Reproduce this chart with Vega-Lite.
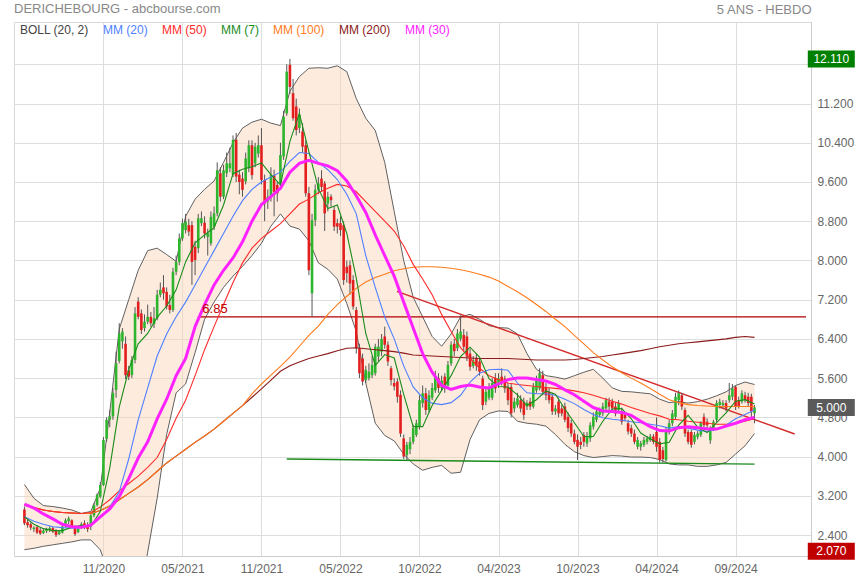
{
"$schema":"https://vega.github.io/schema/vega-lite/v6.json",
"width":797,"height":534,
"autosize":{"type":"none"},
"padding":{"left":14,"top":22,"right":49,"bottom":24},
"background":"white",
"title":{"text":"DERICHEBOURG - abcbourse.com","anchor":"start","frame":"group","baseline":"middle","font":"Liberation Sans","fontSize":13,"fontWeight":"normal","color":"#888888","offset":-18.5},
"config":{"view":{"stroke":"#d8d8d8"},"font":"Liberation Sans"},
"datasets":{
"k":[
{"d":"2020-06-05","o":2.92,"h":2.98,"l":2.60,"c":2.64},
{"d":"2020-06-12","o":2.66,"h":2.74,"l":2.55,"c":2.60},
{"d":"2020-06-19","o":2.62,"h":2.66,"l":2.50,"c":2.55},
{"d":"2020-06-26","o":2.52,"h":2.58,"l":2.46,"c":2.55},
{"d":"2020-07-03","o":2.56,"h":2.60,"l":2.42,"c":2.45},
{"d":"2020-07-10","o":2.50,"h":2.55,"l":2.40,"c":2.43},
{"d":"2020-07-17","o":2.44,"h":2.52,"l":2.42,"c":2.49},
{"d":"2020-07-24","o":2.48,"h":2.55,"l":2.44,"c":2.52},
{"d":"2020-07-31","o":2.50,"h":2.58,"l":2.46,"c":2.54},
{"d":"2020-08-07","o":2.54,"h":2.58,"l":2.44,"c":2.47},
{"d":"2020-08-14","o":2.50,"h":2.52,"l":2.36,"c":2.40},
{"d":"2020-08-21","o":2.42,"h":2.50,"l":2.40,"c":2.47},
{"d":"2020-08-28","o":2.45,"h":2.60,"l":2.43,"c":2.57},
{"d":"2020-09-04","o":2.58,"h":2.74,"l":2.56,"c":2.70},
{"d":"2020-09-11","o":2.68,"h":2.78,"l":2.62,"c":2.74},
{"d":"2020-09-18","o":2.70,"h":2.72,"l":2.54,"c":2.58},
{"d":"2020-09-25","o":2.58,"h":2.60,"l":2.38,"c":2.42},
{"d":"2020-10-02","o":2.46,"h":2.58,"l":2.44,"c":2.54},
{"d":"2020-10-09","o":2.55,"h":2.66,"l":2.52,"c":2.62},
{"d":"2020-10-16","o":2.64,"h":2.70,"l":2.52,"c":2.56},
{"d":"2020-10-23","o":2.60,"h":2.66,"l":2.46,"c":2.52},
{"d":"2020-10-30","o":2.58,"h":2.86,"l":2.50,"c":2.80},
{"d":"2020-11-06","o":2.80,"h":3.05,"l":2.76,"c":3.01},
{"d":"2020-11-13","o":3.01,"h":3.25,"l":2.98,"c":3.22},
{"d":"2020-11-20","o":3.18,"h":3.48,"l":3.15,"c":3.42},
{"d":"2020-11-27","o":3.42,"h":4.40,"l":3.40,"c":4.34},
{"d":"2020-12-04","o":4.36,"h":4.80,"l":4.30,"c":4.75},
{"d":"2020-12-11","o":4.75,"h":4.95,"l":4.60,"c":4.82},
{"d":"2020-12-18","o":4.82,"h":5.40,"l":4.75,"c":5.30},
{"d":"2020-12-25","o":5.36,"h":6.14,"l":5.20,"c":5.90},
{"d":"2021-01-01","o":5.95,"h":6.72,"l":5.90,"c":6.51},
{"d":"2021-01-08","o":6.35,"h":6.62,"l":6.20,"c":6.55},
{"d":"2021-01-15","o":6.30,"h":6.45,"l":5.58,"c":5.66},
{"d":"2021-01-22","o":5.76,"h":5.85,"l":5.56,"c":5.63},
{"d":"2021-01-29","o":5.66,"h":6.05,"l":5.60,"c":5.97},
{"d":"2021-02-05","o":5.97,"h":7.05,"l":5.90,"c":6.92},
{"d":"2021-02-12","o":7.16,"h":7.25,"l":6.80,"c":6.85},
{"d":"2021-02-19","o":6.92,"h":7.00,"l":6.50,"c":6.58},
{"d":"2021-02-26","o":6.62,"h":6.90,"l":6.55,"c":6.75},
{"d":"2021-03-05","o":6.75,"h":7.10,"l":6.70,"c":6.85},
{"d":"2021-03-12","o":6.85,"h":6.95,"l":6.65,"c":6.72},
{"d":"2021-03-19","o":6.70,"h":7.05,"l":6.62,"c":6.82},
{"d":"2021-03-26","o":6.82,"h":7.40,"l":6.78,"c":7.30},
{"d":"2021-04-02","o":7.30,"h":7.55,"l":7.25,"c":7.40},
{"d":"2021-04-09","o":7.45,"h":7.70,"l":7.20,"c":7.33},
{"d":"2021-04-16","o":7.36,"h":7.45,"l":7.00,"c":7.06},
{"d":"2021-04-23","o":7.09,"h":7.30,"l":6.92,"c":6.99},
{"d":"2021-04-30","o":6.99,"h":7.85,"l":6.95,"c":7.77},
{"d":"2021-05-07","o":7.77,"h":8.10,"l":7.70,"c":7.97},
{"d":"2021-05-14","o":7.97,"h":8.55,"l":7.90,"c":8.45},
{"d":"2021-05-21","o":8.45,"h":8.85,"l":8.40,"c":8.76},
{"d":"2021-05-28","o":8.62,"h":8.95,"l":8.55,"c":8.79},
{"d":"2021-06-04","o":8.72,"h":8.85,"l":8.50,"c":8.59},
{"d":"2021-06-11","o":8.72,"h":8.80,"l":7.50,"c":7.97},
{"d":"2021-06-18","o":8.28,"h":8.40,"l":7.70,"c":8.01},
{"d":"2021-06-25","o":8.25,"h":8.95,"l":8.15,"c":8.86},
{"d":"2021-07-02","o":8.76,"h":9.00,"l":8.70,"c":8.86},
{"d":"2021-07-09","o":8.77,"h":8.90,"l":8.45,"c":8.55},
{"d":"2021-07-16","o":8.48,"h":8.65,"l":8.10,"c":8.55},
{"d":"2021-07-23","o":8.35,"h":9.00,"l":8.30,"c":8.89},
{"d":"2021-07-30","o":8.69,"h":9.10,"l":8.62,"c":8.96},
{"d":"2021-08-06","o":8.96,"h":10.00,"l":8.90,"c":9.84},
{"d":"2021-08-13","o":9.78,"h":9.90,"l":9.20,"c":9.30},
{"d":"2021-08-20","o":9.30,"h":9.95,"l":9.25,"c":9.84},
{"d":"2021-08-27","o":9.78,"h":10.20,"l":9.70,"c":9.98},
{"d":"2021-09-03","o":9.88,"h":10.30,"l":9.80,"c":9.98},
{"d":"2021-09-10","o":9.75,"h":10.55,"l":9.70,"c":10.46},
{"d":"2021-09-17","o":10.46,"h":10.60,"l":9.60,"c":9.71},
{"d":"2021-09-24","o":9.75,"h":9.85,"l":9.35,"c":9.60},
{"d":"2021-10-01","o":9.67,"h":9.80,"l":9.30,"c":9.44},
{"d":"2021-10-08","o":9.61,"h":10.20,"l":9.55,"c":10.08},
{"d":"2021-10-15","o":9.88,"h":10.45,"l":9.80,"c":10.35},
{"d":"2021-10-22","o":10.35,"h":10.45,"l":9.65,"c":9.74},
{"d":"2021-10-29","o":9.98,"h":10.40,"l":9.90,"c":10.32},
{"d":"2021-11-05","o":10.18,"h":10.55,"l":10.10,"c":10.35},
{"d":"2021-11-12","o":10.35,"h":10.70,"l":9.55,"c":9.64},
{"d":"2021-11-19","o":9.64,"h":9.75,"l":8.80,"c":9.16},
{"d":"2021-11-26","o":9.20,"h":9.45,"l":9.05,"c":9.30},
{"d":"2021-12-03","o":9.30,"h":9.90,"l":9.20,"c":9.74},
{"d":"2021-12-10","o":9.74,"h":9.85,"l":8.90,"c":9.40},
{"d":"2021-12-17","o":9.54,"h":9.60,"l":9.20,"c":9.37},
{"d":"2021-12-24","o":9.57,"h":10.40,"l":9.50,"c":10.15},
{"d":"2021-12-31","o":10.12,"h":11.05,"l":10.05,"c":10.93},
{"d":"2022-01-07","o":11.00,"h":12.00,"l":10.95,"c":11.85},
{"d":"2022-01-14","o":11.99,"h":12.11,"l":11.40,"c":11.54},
{"d":"2022-01-21","o":11.41,"h":11.70,"l":10.85,"c":10.90},
{"d":"2022-01-28","o":11.14,"h":11.30,"l":10.55,"c":10.66},
{"d":"2022-02-04","o":10.70,"h":11.10,"l":10.60,"c":10.97},
{"d":"2022-02-11","o":10.63,"h":10.80,"l":10.20,"c":10.32},
{"d":"2022-02-18","o":10.35,"h":10.45,"l":9.30,"c":9.37},
{"d":"2022-02-25","o":9.37,"h":9.50,"l":7.70,"c":7.80},
{"d":"2022-03-04","o":7.33,"h":8.95,"l":6.85,"c":8.82},
{"d":"2022-03-11","o":8.82,"h":9.55,"l":8.70,"c":9.44},
{"d":"2022-03-18","o":9.44,"h":9.70,"l":9.35,"c":9.57},
{"d":"2022-03-25","o":9.67,"h":9.84,"l":9.40,"c":9.50},
{"d":"2022-04-01","o":9.57,"h":9.62,"l":8.60,"c":8.96},
{"d":"2022-04-08","o":9.16,"h":9.40,"l":9.00,"c":9.30},
{"d":"2022-04-15","o":9.30,"h":9.35,"l":9.10,"c":9.23},
{"d":"2022-04-22","o":9.03,"h":9.10,"l":8.60,"c":8.69},
{"d":"2022-04-29","o":8.76,"h":8.85,"l":8.55,"c":8.69},
{"d":"2022-05-06","o":8.76,"h":8.90,"l":8.50,"c":8.62},
{"d":"2022-05-13","o":8.72,"h":8.80,"l":7.50,"c":7.60},
{"d":"2022-05-20","o":7.87,"h":8.00,"l":7.55,"c":7.74},
{"d":"2022-05-27","o":7.90,"h":8.00,"l":7.30,"c":7.53},
{"d":"2022-06-03","o":7.60,"h":7.70,"l":7.00,"c":7.06},
{"d":"2022-06-10","o":6.99,"h":7.05,"l":6.10,"c":6.21},
{"d":"2022-06-17","o":6.21,"h":6.30,"l":5.60,"c":5.70},
{"d":"2022-06-24","o":6.00,"h":6.10,"l":5.45,"c":5.53},
{"d":"2022-07-01","o":5.56,"h":5.85,"l":5.50,"c":5.77},
{"d":"2022-07-08","o":5.60,"h":5.90,"l":5.55,"c":5.73},
{"d":"2022-07-15","o":5.66,"h":6.05,"l":5.60,"c":5.87},
{"d":"2022-07-22","o":5.70,"h":6.30,"l":5.65,"c":6.24},
{"d":"2022-07-29","o":6.04,"h":6.40,"l":5.95,"c":6.24},
{"d":"2022-08-05","o":6.14,"h":6.50,"l":6.05,"c":6.40},
{"d":"2022-08-12","o":6.45,"h":6.65,"l":6.20,"c":6.28},
{"d":"2022-08-19","o":6.28,"h":6.35,"l":5.85,"c":5.94},
{"d":"2022-08-26","o":5.80,"h":5.85,"l":5.45,"c":5.56},
{"d":"2022-09-02","o":5.50,"h":5.60,"l":5.35,"c":5.43},
{"d":"2022-09-09","o":5.53,"h":5.60,"l":5.10,"c":5.22},
{"d":"2022-09-16","o":5.26,"h":5.35,"l":4.40,"c":4.47},
{"d":"2022-09-23","o":4.37,"h":4.45,"l":3.95,"c":4.00},
{"d":"2022-09-30","o":4.03,"h":4.30,"l":3.93,"c":4.24},
{"d":"2022-10-07","o":4.15,"h":4.40,"l":4.05,"c":4.30},
{"d":"2022-10-14","o":4.30,"h":4.65,"l":4.25,"c":4.58},
{"d":"2022-10-21","o":4.44,"h":4.75,"l":4.40,"c":4.68},
{"d":"2022-10-28","o":4.61,"h":5.25,"l":4.55,"c":5.15},
{"d":"2022-11-04","o":5.09,"h":5.45,"l":5.00,"c":5.29},
{"d":"2022-11-11","o":5.29,"h":5.40,"l":4.85,"c":4.95},
{"d":"2022-11-18","o":4.95,"h":5.35,"l":4.90,"c":5.25},
{"d":"2022-11-25","o":5.20,"h":5.50,"l":5.15,"c":5.40},
{"d":"2022-12-02","o":5.35,"h":5.75,"l":5.30,"c":5.63},
{"d":"2022-12-09","o":5.60,"h":5.70,"l":5.30,"c":5.40},
{"d":"2022-12-16","o":5.40,"h":5.65,"l":5.35,"c":5.55},
{"d":"2022-12-23","o":5.63,"h":5.70,"l":5.30,"c":5.40},
{"d":"2022-12-30","o":5.45,"h":5.95,"l":5.40,"c":5.87},
{"d":"2023-01-06","o":5.90,"h":6.35,"l":5.85,"c":6.28},
{"d":"2023-01-13","o":6.30,"h":6.40,"l":6.05,"c":6.15},
{"d":"2023-01-20","o":6.21,"h":6.60,"l":6.15,"c":6.51},
{"d":"2023-01-27","o":6.40,"h":6.88,"l":6.35,"c":6.55},
{"d":"2023-02-03","o":6.48,"h":6.60,"l":6.15,"c":6.24},
{"d":"2023-02-10","o":6.45,"h":6.55,"l":5.95,"c":6.04},
{"d":"2023-02-17","o":6.10,"h":6.20,"l":5.75,"c":5.83},
{"d":"2023-02-24","o":5.85,"h":6.05,"l":5.80,"c":5.96},
{"d":"2023-03-03","o":6.00,"h":6.10,"l":5.75,"c":5.85},
{"d":"2023-03-10","o":5.94,"h":6.00,"l":5.65,"c":5.73},
{"d":"2023-03-17","o":5.59,"h":5.65,"l":4.95,"c":5.05},
{"d":"2023-03-24","o":5.12,"h":5.40,"l":5.05,"c":5.32},
{"d":"2023-03-31","o":5.20,"h":5.50,"l":5.15,"c":5.40},
{"d":"2023-04-07","o":5.20,"h":5.60,"l":5.15,"c":5.50},
{"d":"2023-04-14","o":5.60,"h":5.70,"l":5.30,"c":5.39},
{"d":"2023-04-21","o":5.49,"h":5.70,"l":5.40,"c":5.60},
{"d":"2023-04-28","o":5.63,"h":5.80,"l":5.45,"c":5.52},
{"d":"2023-05-05","o":5.59,"h":5.65,"l":5.30,"c":5.39},
{"d":"2023-05-12","o":5.42,"h":5.50,"l":5.05,"c":5.15},
{"d":"2023-05-19","o":5.42,"h":5.50,"l":4.80,"c":4.88},
{"d":"2023-05-26","o":4.98,"h":5.20,"l":4.90,"c":5.12},
{"d":"2023-06-02","o":5.05,"h":5.30,"l":5.00,"c":5.19},
{"d":"2023-06-09","o":5.15,"h":5.25,"l":4.90,"c":4.98},
{"d":"2023-06-16","o":5.12,"h":5.20,"l":4.75,"c":4.85},
{"d":"2023-06-23","o":5.02,"h":5.15,"l":4.95,"c":5.09},
{"d":"2023-06-30","o":5.12,"h":5.20,"l":4.95,"c":5.02},
{"d":"2023-07-07","o":5.02,"h":5.50,"l":4.98,"c":5.42},
{"d":"2023-07-14","o":5.35,"h":5.65,"l":5.30,"c":5.56},
{"d":"2023-07-21","o":5.39,"h":5.80,"l":5.35,"c":5.70},
{"d":"2023-07-28","o":5.66,"h":5.75,"l":5.25,"c":5.32},
{"d":"2023-08-04","o":5.42,"h":5.50,"l":5.15,"c":5.25},
{"d":"2023-08-11","o":5.32,"h":5.40,"l":5.08,"c":5.15},
{"d":"2023-08-18","o":5.22,"h":5.30,"l":4.85,"c":4.92},
{"d":"2023-08-25","o":4.92,"h":5.05,"l":4.85,"c":4.98},
{"d":"2023-09-01","o":5.12,"h":5.20,"l":4.80,"c":4.88},
{"d":"2023-09-08","o":4.98,"h":5.05,"l":4.82,"c":4.88},
{"d":"2023-09-15","o":5.02,"h":5.10,"l":4.70,"c":4.75},
{"d":"2023-09-22","o":4.81,"h":4.90,"l":4.50,"c":4.58},
{"d":"2023-09-29","o":4.68,"h":4.75,"l":4.40,"c":4.47},
{"d":"2023-10-06","o":4.47,"h":4.55,"l":4.25,"c":4.30},
{"d":"2023-10-13","o":4.34,"h":4.45,"l":3.93,"c":4.20},
{"d":"2023-10-20","o":4.30,"h":4.40,"l":4.15,"c":4.24},
{"d":"2023-10-27","o":4.44,"h":4.50,"l":4.20,"c":4.30},
{"d":"2023-11-03","o":4.27,"h":4.50,"l":4.20,"c":4.41},
{"d":"2023-11-10","o":4.37,"h":4.70,"l":4.30,"c":4.64},
{"d":"2023-11-17","o":4.61,"h":4.90,"l":4.55,"c":4.81},
{"d":"2023-11-24","o":4.75,"h":5.00,"l":4.70,"c":4.92},
{"d":"2023-12-01","o":4.85,"h":5.00,"l":4.80,"c":4.92},
{"d":"2023-12-08","o":4.88,"h":5.10,"l":4.82,"c":5.02},
{"d":"2023-12-15","o":4.98,"h":5.20,"l":4.92,"c":5.15},
{"d":"2023-12-22","o":5.12,"h":5.20,"l":4.95,"c":5.02},
{"d":"2023-12-29","o":5.12,"h":5.18,"l":4.92,"c":4.98},
{"d":"2024-01-05","o":5.02,"h":5.10,"l":4.82,"c":4.88},
{"d":"2024-01-12","o":4.95,"h":5.15,"l":4.90,"c":5.09},
{"d":"2024-01-19","o":4.92,"h":5.00,"l":4.65,"c":4.71},
{"d":"2024-01-26","o":4.85,"h":4.90,"l":4.72,"c":4.78},
{"d":"2024-02-02","o":4.68,"h":4.75,"l":4.45,"c":4.51},
{"d":"2024-02-09","o":4.58,"h":4.65,"l":4.40,"c":4.47},
{"d":"2024-02-16","o":4.47,"h":4.55,"l":4.25,"c":4.30},
{"d":"2024-02-23","o":4.20,"h":4.40,"l":4.15,"c":4.34},
{"d":"2024-03-01","o":4.20,"h":4.32,"l":4.12,"c":4.27},
{"d":"2024-03-08","o":4.24,"h":4.40,"l":4.20,"c":4.34},
{"d":"2024-03-15","o":4.30,"h":4.42,"l":4.25,"c":4.37},
{"d":"2024-03-22","o":4.34,"h":4.46,"l":4.30,"c":4.41},
{"d":"2024-03-29","o":4.41,"h":4.46,"l":4.25,"c":4.30},
{"d":"2024-04-05","o":4.50,"h":4.80,"l":4.10,"c":4.20},
{"d":"2024-04-12","o":4.30,"h":4.38,"l":3.88,"c":3.93},
{"d":"2024-04-19","o":4.13,"h":4.20,"l":3.88,"c":3.95},
{"d":"2024-04-26","o":3.93,"h":4.60,"l":3.90,"c":4.54},
{"d":"2024-05-03","o":4.50,"h":4.75,"l":4.45,"c":4.68},
{"d":"2024-05-10","o":4.68,"h":4.95,"l":4.62,"c":4.88},
{"d":"2024-05-17","o":4.81,"h":5.30,"l":4.75,"c":5.22},
{"d":"2024-05-24","o":5.15,"h":5.35,"l":5.05,"c":5.29},
{"d":"2024-05-31","o":5.25,"h":5.30,"l":4.95,"c":5.02},
{"d":"2024-06-07","o":4.95,"h":5.00,"l":4.40,"c":4.47},
{"d":"2024-06-14","o":4.50,"h":4.55,"l":4.25,"c":4.30},
{"d":"2024-06-21","o":4.50,"h":4.55,"l":4.18,"c":4.24},
{"d":"2024-06-28","o":4.30,"h":4.50,"l":4.25,"c":4.44},
{"d":"2024-07-05","o":4.40,"h":4.52,"l":4.35,"c":4.47},
{"d":"2024-07-12","o":4.44,"h":4.72,"l":4.40,"c":4.68},
{"d":"2024-07-19","o":4.81,"h":4.88,"l":4.58,"c":4.64},
{"d":"2024-07-26","o":4.71,"h":4.78,"l":4.58,"c":4.64},
{"d":"2024-08-02","o":4.33,"h":4.62,"l":4.26,"c":4.58},
{"d":"2024-08-09","o":4.58,"h":4.75,"l":4.52,"c":4.71},
{"d":"2024-08-16","o":4.75,"h":5.15,"l":4.70,"c":5.09},
{"d":"2024-08-23","o":5.05,"h":5.18,"l":4.98,"c":5.12},
{"d":"2024-08-30","o":5.05,"h":5.15,"l":4.98,"c":5.09},
{"d":"2024-09-06","o":5.09,"h":5.15,"l":4.92,"c":4.98},
{"d":"2024-09-13","o":5.15,"h":5.50,"l":5.10,"c":5.25},
{"d":"2024-09-20","o":5.22,"h":5.48,"l":5.15,"c":5.39},
{"d":"2024-09-27","o":5.42,"h":5.45,"l":4.95,"c":5.02},
{"d":"2024-10-04","o":5.15,"h":5.22,"l":4.98,"c":5.02},
{"d":"2024-10-11","o":5.12,"h":5.35,"l":5.08,"c":5.29},
{"d":"2024-10-18","o":5.25,"h":5.32,"l":5.10,"c":5.15},
{"d":"2024-10-25","o":5.22,"h":5.30,"l":5.02,"c":5.09},
{"d":"2024-11-01","o":5.22,"h":5.28,"l":4.75,"c":4.92},
{"d":"2024-11-08","o":4.88,"h":5.05,"l":4.68,"c":5.00}
],
"ind":[
{"d":"2020-06-05","u":3.43,"b":2.10,"m7":2.77,"m20":2.77,"m30":3.03,"m50":3.01,"m100":3.01,"m200":3.01},
{"d":"2020-06-26","u":3.15,"b":2.13,"m7":2.62,"m20":2.68,"m30":2.95,"m50":2.96,"m100":2.96,"m200":2.96},
{"d":"2020-07-17","u":3.00,"b":2.17,"m7":2.53,"m20":2.62,"m30":2.83,"m50":2.91,"m100":2.91,"m200":2.91},
{"d":"2020-08-07","u":2.98,"b":2.20,"m7":2.49,"m20":2.57,"m30":2.73,"m50":2.88,"m100":2.88,"m200":2.88},
{"d":"2020-08-28","u":2.95,"b":2.23,"m7":2.49,"m20":2.55,"m30":2.62,"m50":2.86,"m100":2.86,"m200":2.86},
{"d":"2020-09-18","u":2.91,"b":2.26,"m7":2.56,"m20":2.54,"m30":2.57,"m50":2.85,"m100":2.85,"m200":2.85},
{"d":"2020-10-09","u":2.84,"b":2.30,"m7":2.60,"m20":2.55,"m30":2.56,"m50":2.84,"m100":2.84,"m200":2.84},
{"d":"2020-10-30","u":2.88,"b":2.30,"m7":2.58,"m20":2.60,"m30":2.60,"m50":2.86,"m100":2.84,"m200":2.84},
{"d":"2020-11-20","u":3.35,"b":2.10,"m7":2.88,"m20":2.76,"m30":2.77,"m50":2.97,"m100":2.90,"m200":2.90},
{"d":"2020-12-11","u":4.90,"b":1.55,"m7":3.77,"m20":2.97,"m30":2.93,"m50":3.12,"m100":2.99,"m200":2.99},
{"d":"2021-01-01","u":6.60,"b":0.90,"m7":5.01,"m20":3.28,"m30":3.18,"m50":3.30,"m100":3.12,"m200":3.12},
{"d":"2021-01-22","u":7.20,"b":0.60,"m7":5.77,"m20":3.95,"m30":3.55,"m50":3.45,"m100":3.25,"m200":3.25},
{"d":"2021-02-12","u":7.80,"b":0.90,"m7":6.30,"m20":4.75,"m30":3.97,"m50":3.60,"m100":3.38,"m200":3.38},
{"d":"2021-03-05","u":8.20,"b":2.05,"m7":6.51,"m20":5.40,"m30":4.30,"m50":3.78,"m100":3.53,"m200":3.53},
{"d":"2021-03-26","u":8.25,"b":3.15,"m7":6.84,"m20":6.05,"m30":4.77,"m50":3.98,"m100":3.70,"m200":3.70},
{"d":"2021-04-16","u":8.12,"b":4.45,"m7":7.07,"m20":6.50,"m30":5.17,"m50":4.35,"m100":3.87,"m200":3.87},
{"d":"2021-05-07","u":7.98,"b":5.30,"m7":7.40,"m20":6.85,"m30":5.65,"m50":4.78,"m100":4.01,"m200":4.01},
{"d":"2021-05-28","u":8.90,"b":5.48,"m7":7.97,"m20":7.15,"m30":6.00,"m50":5.15,"m100":4.15,"m200":4.15},
{"d":"2021-06-18","u":9.25,"b":6.12,"m7":8.36,"m20":7.50,"m30":6.65,"m50":5.65,"m100":4.29,"m200":4.29},
{"d":"2021-07-09","u":9.45,"b":6.80,"m7":8.52,"m20":7.85,"m30":7.10,"m50":6.18,"m100":4.42,"m200":4.42},
{"d":"2021-07-30","u":9.62,"b":7.15,"m7":8.67,"m20":8.20,"m30":7.50,"m50":6.65,"m100":4.56,"m200":4.56},
{"d":"2021-08-20","u":10.00,"b":7.45,"m7":9.13,"m20":8.55,"m30":7.80,"m50":7.10,"m100":4.72,"m200":4.72},
{"d":"2021-09-10","u":10.40,"b":7.68,"m7":9.77,"m20":8.90,"m30":8.05,"m50":7.55,"m100":4.88,"m200":4.88},
{"d":"2021-10-01","u":10.70,"b":7.88,"m7":9.86,"m20":9.22,"m30":8.38,"m50":7.95,"m100":5.04,"m200":5.04},
{"d":"2021-10-22","u":10.82,"b":8.10,"m7":9.91,"m20":9.45,"m30":8.80,"m50":8.25,"m100":5.28,"m200":5.21},
{"d":"2021-11-12","u":10.88,"b":8.35,"m7":9.99,"m20":9.60,"m30":9.14,"m50":8.45,"m100":5.48,"m200":5.38},
{"d":"2021-12-03","u":10.80,"b":8.70,"m7":9.75,"m20":9.70,"m30":9.30,"m50":8.60,"m100":5.66,"m200":5.56},
{"d":"2021-12-24","u":10.75,"b":8.95,"m7":9.54,"m20":9.80,"m30":9.47,"m50":8.75,"m100":5.84,"m200":5.74},
{"d":"2022-01-14","u":11.45,"b":8.70,"m7":10.43,"m20":10.02,"m30":9.80,"m50":8.95,"m100":6.03,"m200":5.85},
{"d":"2022-02-04","u":11.75,"b":8.64,"m7":11.00,"m20":10.20,"m30":9.98,"m50":9.15,"m100":6.25,"m200":5.93},
{"d":"2022-02-25","u":11.92,"b":8.40,"m7":10.22,"m20":10.18,"m30":10.04,"m50":9.25,"m100":6.47,"m200":6.00},
{"d":"2022-03-18","u":11.93,"b":7.95,"m7":9.47,"m20":10.00,"m30":9.98,"m50":9.38,"m100":6.66,"m200":6.05},
{"d":"2022-04-08","u":11.92,"b":7.82,"m7":9.06,"m20":9.85,"m30":9.93,"m50":9.47,"m100":6.90,"m200":6.10},
{"d":"2022-04-29","u":11.97,"b":7.62,"m7":9.13,"m20":9.65,"m30":9.83,"m50":9.55,"m100":7.10,"m200":6.16},
{"d":"2022-05-20","u":11.85,"b":7.12,"m7":8.55,"m20":9.35,"m30":9.62,"m50":9.52,"m100":7.27,"m200":6.21},
{"d":"2022-06-10","u":11.30,"b":6.55,"m7":7.64,"m20":8.95,"m30":9.32,"m50":9.40,"m100":7.43,"m200":6.22},
{"d":"2022-07-01","u":10.90,"b":5.50,"m7":6.51,"m20":8.10,"m30":8.98,"m50":9.20,"m100":7.56,"m200":6.20},
{"d":"2022-07-22","u":10.65,"b":4.68,"m7":5.86,"m20":7.45,"m30":8.52,"m50":9.00,"m100":7.65,"m200":6.18},
{"d":"2022-08-12","u":10.00,"b":4.43,"m7":6.08,"m20":6.85,"m30":8.10,"m50":8.80,"m100":7.72,"m200":6.16},
{"d":"2022-09-02","u":9.00,"b":4.32,"m7":6.01,"m20":6.40,"m30":7.68,"m50":8.60,"m100":7.79,"m200":6.14},
{"d":"2022-09-23","u":8.00,"b":4.05,"m7":5.27,"m20":5.85,"m30":7.15,"m50":8.30,"m100":7.83,"m200":6.11},
{"d":"2022-10-14","u":7.25,"b":3.85,"m7":4.61,"m20":5.42,"m30":6.62,"m50":7.92,"m100":7.86,"m200":6.07},
{"d":"2022-11-04","u":6.85,"b":3.72,"m7":4.61,"m20":5.20,"m30":6.10,"m50":7.62,"m100":7.87,"m200":6.06},
{"d":"2022-11-25","u":6.45,"b":3.78,"m7":5.04,"m20":5.09,"m30":5.72,"m50":7.30,"m100":7.87,"m200":6.05},
{"d":"2022-12-16","u":6.25,"b":3.82,"m7":5.35,"m20":5.06,"m30":5.45,"m50":6.90,"m100":7.86,"m200":6.04},
{"d":"2023-01-06","u":6.50,"b":3.66,"m7":5.65,"m20":5.10,"m30":5.37,"m50":6.55,"m100":7.84,"m200":6.03},
{"d":"2023-01-27","u":6.85,"b":3.68,"m7":6.04,"m20":5.25,"m30":5.43,"m50":6.22,"m100":7.81,"m200":6.02},
{"d":"2023-02-17","u":6.90,"b":4.35,"m7":6.23,"m20":5.52,"m30":5.46,"m50":6.00,"m100":7.77,"m200":6.01},
{"d":"2023-03-10","u":6.80,"b":4.75,"m7":6.03,"m20":5.70,"m30":5.42,"m50":5.80,"m100":7.72,"m200":6.00},
{"d":"2023-03-31","u":6.67,"b":4.88,"m7":5.59,"m20":5.77,"m30":5.40,"m50":5.65,"m100":7.66,"m200":6.00},
{"d":"2023-04-21","u":6.63,"b":4.93,"m7":5.43,"m20":5.78,"m30":5.48,"m50":5.57,"m100":7.58,"m200":6.00},
{"d":"2023-05-12","u":6.62,"b":4.92,"m7":5.42,"m20":5.76,"m30":5.57,"m50":5.50,"m100":7.47,"m200":6.00},
{"d":"2023-06-02","u":6.50,"b":4.72,"m7":5.26,"m20":5.50,"m30":5.60,"m50":5.47,"m100":7.36,"m200":5.99},
{"d":"2023-06-23","u":6.10,"b":4.68,"m7":5.04,"m20":5.30,"m30":5.60,"m50":5.45,"m100":7.24,"m200":5.98},
{"d":"2023-07-14","u":5.78,"b":4.66,"m7":5.16,"m20":5.28,"m30":5.57,"m50":5.43,"m100":7.10,"m200":5.97},
{"d":"2023-08-04","u":5.65,"b":4.62,"m7":5.34,"m20":5.28,"m30":5.54,"m50":5.41,"m100":6.96,"m200":5.97},
{"d":"2023-08-25","u":5.62,"b":4.45,"m7":5.27,"m20":5.25,"m30":5.47,"m50":5.39,"m100":6.80,"m200":5.97},
{"d":"2023-09-15","u":5.58,"b":4.25,"m7":4.97,"m20":5.17,"m30":5.36,"m50":5.37,"m100":6.65,"m200":5.97},
{"d":"2023-10-06","u":5.65,"b":4.10,"m7":4.69,"m20":5.08,"m30":5.26,"m50":5.34,"m100":6.47,"m200":5.98},
{"d":"2023-10-27","u":5.72,"b":4.02,"m7":4.41,"m20":4.96,"m30":5.13,"m50":5.30,"m100":6.30,"m200":6.00},
{"d":"2023-11-17","u":5.78,"b":3.98,"m7":4.41,"m20":4.86,"m30":5.00,"m50":5.25,"m100":6.12,"m200":6.02},
{"d":"2023-12-08","u":5.60,"b":4.00,"m7":4.72,"m20":4.79,"m30":4.93,"m50":5.19,"m100":5.97,"m200":6.04},
{"d":"2023-12-29","u":5.40,"b":4.02,"m7":4.97,"m20":4.76,"m30":4.92,"m50":5.13,"m100":5.83,"m200":6.07},
{"d":"2024-01-19","u":5.33,"b":4.01,"m7":4.98,"m20":4.74,"m30":4.90,"m50":5.07,"m100":5.71,"m200":6.10},
{"d":"2024-02-09","u":5.32,"b":3.99,"m7":4.77,"m20":4.71,"m30":4.84,"m50":5.00,"m100":5.60,"m200":6.13},
{"d":"2024-03-01","u":5.30,"b":3.99,"m7":4.48,"m20":4.69,"m30":4.72,"m50":4.94,"m100":5.50,"m200":6.16},
{"d":"2024-03-22","u":5.28,"b":3.98,"m7":4.36,"m20":4.66,"m30":4.61,"m50":4.88,"m100":5.39,"m200":6.20},
{"d":"2024-04-12","u":5.17,"b":3.94,"m7":4.26,"m20":4.63,"m30":4.53,"m50":4.83,"m100":5.27,"m200":6.24},
{"d":"2024-05-03","u":5.10,"b":3.85,"m7":4.29,"m20":4.58,"m30":4.52,"m50":4.76,"m100":5.16,"m200":6.27},
{"d":"2024-05-24","u":5.12,"b":3.83,"m7":4.64,"m20":4.61,"m30":4.59,"m50":4.75,"m100":5.10,"m200":6.30},
{"d":"2024-06-14","u":5.09,"b":3.83,"m7":4.84,"m20":4.58,"m30":4.61,"m50":4.72,"m100":5.06,"m200":6.32},
{"d":"2024-07-05","u":5.12,"b":3.80,"m7":4.60,"m20":4.54,"m30":4.59,"m50":4.70,"m100":5.04,"m200":6.34},
{"d":"2024-07-26","u":5.17,"b":3.80,"m7":4.49,"m20":4.51,"m30":4.56,"m50":4.68,"m100":5.03,"m200":6.36},
{"d":"2024-08-16","u":5.24,"b":3.83,"m7":4.69,"m20":4.56,"m30":4.56,"m50":4.66,"m100":5.02,"m200":6.38},
{"d":"2024-09-06","u":5.32,"b":3.88,"m7":4.89,"m20":4.64,"m30":4.62,"m50":4.66,"m100":5.02,"m200":6.40},
{"d":"2024-09-27","u":5.45,"b":4.05,"m7":5.13,"m20":4.77,"m30":4.68,"m50":4.68,"m100":5.02,"m200":6.43},
{"d":"2024-10-18","u":5.52,"b":4.22,"m7":5.16,"m20":4.86,"m30":4.75,"m50":4.72,"m100":5.02,"m200":6.45},
{"d":"2024-11-08","u":5.47,"b":4.47,"m7":5.07,"m20":4.95,"m30":4.80,"m50":4.77,"m100":5.02,"m200":6.43}
]
},
"layer":[
{"data":{"name":"ind"},
 "mark":{"type":"area","clip":true,"fill":"#fbd3b6","opacity":0.45},
 "encoding":{
  "x":{"field":"d","type":"temporal",
   "scale":{"type":"utc","domain":[{"year":2020,"month":5,"date":24,"utc":true},{"year":2025,"month":3,"date":2,"utc":true}]},
   "axis":{"title":null,"format":"%m/%Y","grid":true,"gridColor":"#dedede","ticks":false,"domainColor":"#cccccc","labelColor":"#666666","labelFontSize":12,"labelFont":"Liberation Sans","labelPadding":7,"labelFlush":false,"labelOverlap":false,
    "values":[{"year":2020,"month":11,"date":27,"utc":true},{"year":2021,"month":5,"date":21,"utc":true},{"year":2021,"month":11,"date":12,"utc":true},{"year":2022,"month":5,"date":6,"utc":true},{"year":2022,"month":10,"date":28,"utc":true},{"year":2023,"month":4,"date":21,"utc":true},{"year":2023,"month":10,"date":13,"utc":true},{"year":2024,"month":4,"date":5,"utc":true},{"year":2024,"month":9,"date":27,"utc":true}]}},
  "y":{"field":"u","type":"quantitative",
   "scale":{"domain":[1.972,12.863],"nice":false,"zero":false},
   "axis":{"orient":"right","values":[2.4,3.2,4.0,4.8,5.6,6.4,7.2,8.0,8.8,9.6,10.4,11.2,12.0],"labelExpr":"datum.value > 11.9 ? '' : format(datum.value, '.3f')","grid":true,"gridColor":"#dedede","ticks":false,"domainColor":"#cccccc","labelColor":"#666666","labelFontSize":12,"labelFont":"Liberation Sans","labelPadding":6,"labelFlush":false,"labelOverlap":false,
    "title":"5 ANS - HEBDO","titleAngle":0,"titleX":0,"titleY":-13,"titleAlign":"right","titleBaseline":"middle","titleFont":"Liberation Sans","titleFontSize":13,"titleFontWeight":"normal","titleColor":"#888888"}},
  "y2":{"field":"b"}
 }},
{"data":{"name":"ind"},
 "mark":{"type":"line","clip":true,"color":"#606060","strokeWidth":1},
 "encoding":{"x":{"field":"d","type":"temporal"},"y":{"field":"u","type":"quantitative"}}},
{"data":{"name":"ind"},
 "mark":{"type":"line","clip":true,"color":"#606060","strokeWidth":1},
 "encoding":{"x":{"field":"d","type":"temporal"},"y":{"field":"b","type":"quantitative"}}},
{"data":{"values":[
  {"k":"res","x1":"2021-06-24","x2":"2025-03-02","y1":6.85,"y2":6.85},
  {"k":"trend","x1":"2022-09-08","x2":"2025-02-05","y1":7.37,"y2":4.46},
  {"k":"sup","x1":"2022-01-07","x2":"2024-11-08","y1":3.95,"y2":3.845}]},
 "mark":{"type":"rule","strokeWidth":1.4},
 "encoding":{"x":{"field":"x1","type":"temporal"},"x2":{"field":"x2"},
  "y":{"field":"y1","type":"quantitative"},"y2":{"field":"y2"},
  "stroke":{"field":"k","type":"nominal","scale":{"domain":["res","trend","sup"],"range":["#b00000","#d42a2a","#1a8a1a"]},"legend":null}}},
{"data":{"name":"k"},
 "mark":{"type":"rule","color":"#555555","strokeWidth":1},
 "encoding":{"x":{"field":"d","type":"temporal"},"y":{"field":"l","type":"quantitative"},"y2":{"field":"h"}}},
{"data":{"name":"k"},
 "mark":{"type":"bar","width":2.6},
 "encoding":{"x":{"field":"d","type":"temporal"},"y":{"field":"o","type":"quantitative"},"y2":{"field":"c"},
  "color":{"condition":{"test":"datum.c >= datum.o","value":"#2db52d"},"value":"#e31e1e"}}},
{"data":{"name":"ind"},
 "transform":[{"fold":["m200","m100","m50","m20","m7"],"as":["s","v"]}],
 "mark":{"type":"line","clip":true,"strokeWidth":1.1},
 "encoding":{"x":{"field":"d","type":"temporal"},"y":{"field":"v","type":"quantitative"},
  "color":{"field":"s","type":"nominal",
   "scale":{"domain":["boll","m20","m50","m7","m100","m200","m30"],"range":["#444444","#4f7fff","#ff2a2a","#1a8c1a","#ff7b1c","#8b1a1a","#ff22ff"]},
   "legend":{"title":null,"orient":"none","legendX":-6,"legendY":2,"direction":"horizontal","symbolSize":0,"symbolStrokeWidth":0,"symbolOpacity":0,"labelOffset":0,"columnPadding":2,"padding":0,"labelFont":"Liberation Sans","labelFontSize":12,
    "labelExpr":"datum.label == 'boll' ? 'BOLL (20, 2)' : datum.label == 'm20' ? 'MM (20)' : datum.label == 'm50' ? 'MM (50)' : datum.label == 'm7' ? 'MM (7)' : datum.label == 'm100' ? 'MM (100)' : datum.label == 'm200' ? 'MM (200)' : 'MM (30)'",
    "encode":{"labels":{"update":{"fill":{"scale":"color","field":"value"}}}}}}}},
{"data":{"name":"ind"},
 "transform":[{"fold":["m30"],"as":["s","v"]}],
 "mark":{"type":"line","clip":true,"strokeWidth":3},
 "encoding":{"x":{"field":"d","type":"temporal"},"y":{"field":"v","type":"quantitative"},
  "color":{"field":"s","type":"nominal"}}},
{"data":{"values":[{"d":"2021-07-04","v":6.85,"t":"6.85"}]},
 "mark":{"type":"text","align":"left","baseline":"bottom","dy":-1,"fontSize":13,"color":"#c00000","font":"Liberation Sans"},
 "encoding":{"x":{"field":"d","type":"temporal"},"y":{"field":"v","type":"quantitative"},"text":{"field":"t"}}},
{"data":{"values":[{"k":"max","v":12.11},{"k":"last","v":5.0},{"k":"min","v":2.07}]},
 "mark":{"type":"point","shape":"M-1,-0.36L1,-0.36L1,0.36L-1,0.36Z","size":2209,"filled":true,"opacity":1,"strokeWidth":0},
 "encoding":{"x":{"datum":{"year":2025,"month":4,"date":27,"utc":true},"type":"temporal"},"y":{"field":"v","type":"quantitative"},
  "fill":{"field":"k","type":"nominal","scale":{"domain":["max","last","min"],"range":["#008000","#5a5a5a","#c00000"]},"legend":null}}},
{"data":{"values":[{"k":"max","v":12.11},{"k":"last","v":5.0},{"k":"min","v":2.07}]},
 "mark":{"type":"text","color":"white","fontSize":12,"align":"center","baseline":"middle","font":"Liberation Sans"},
 "encoding":{"x":{"datum":{"year":2025,"month":4,"date":27,"utc":true},"type":"temporal"},"y":{"field":"v","type":"quantitative"},
  "text":{"field":"v","type":"quantitative","format":".3f"}}}
]
}
